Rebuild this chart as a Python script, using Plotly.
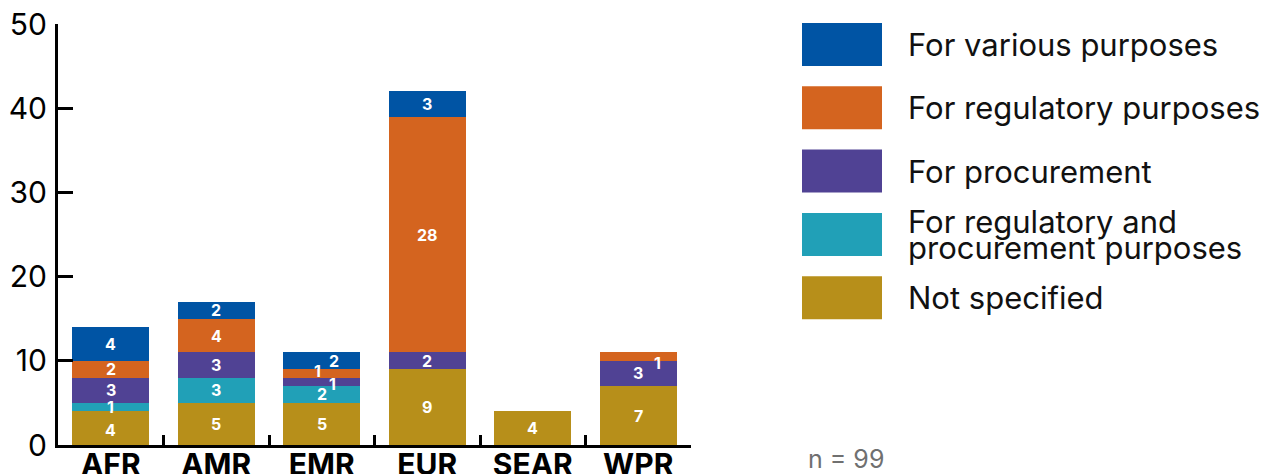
import plotly.graph_objects as go

# Regions and counts per purpose (stacked bottom to top)
regions = ["AFR", "AMR", "EMR", "EUR", "SEAR", "WPR"]
not_specified = [4, 5, 5, 9, 4, 7]
reg_and_proc = [1, 3, 2, 0, 0, 0]
procurement = [3, 3, 1, 2, 0, 3]
regulatory = [2, 4, 1, 28, 0, 1]
various = [4, 2, 2, 3, 0, 0]

series_names = [
    "Not specified",
    "For regulatory and\nprocurement purposes",
    "For procurement",
    "For regulatory purposes",
    "For various purposes",
]
series_values = [not_specified, reg_and_proc, procurement, regulatory, various]
series_colors = ["#B78F1A", "#21A0B7", "#504294", "#D4641F", "#0054A4"]

y_ticks = [0, 10, 20, 30, 40, 50]
sample_note = "n = 99"

# Pixel nudges for value labels that sit in thin segments: (series index, region) -> (dx, dy)
label_nudge = {
    (4, "EMR"): (12, 0),
    (3, "EMR"): (-4, 2),
    (2, "EMR"): (11, -2),
    (3, "WPR"): (19, -6),
    (0, "AFR"): (0, -2),
}

FONT = "Inter"
W, H = 1281, 474
L, R, T, B = 58, 691, 24, 445  # plot area in pixels

fig = go.Figure()
for name, vals, col in zip(series_names, series_values, series_colors):
    fig.add_trace(go.Bar(
        x=regions, y=vals, name=name.replace("\n", " "),
        marker=dict(color=col, line=dict(width=0)),
        showlegend=False,
    ))

# Value labels centred on each segment
annotations = []
base = [0] * len(regions)
for si, vals in enumerate(series_values):
    for ri, v in enumerate(vals):
        if v:
            dx, dy = label_nudge.get((si, regions[ri]), (0, 0))
            annotations.append(dict(
                x=regions[ri], y=base[ri] + v / 2, xref="x", yref="y",
                text=f"<b>{v}</b>", showarrow=False,
                font=dict(family=FONT, size=16, color="white"),
                xshift=dx, yshift=dy,
            ))
        base[ri] += v


def px_x(p):
    return (p - L) / (R - L)


def px_y(p):
    return (B - p) / (B - T)


# Legend: large swatches with labels, top to bottom
shapes = []
sw_x0, sw_x1, sw_h, sw_top, pitch = 802, 882, 43, 23, 63.3
text_x = 906
for k, si in enumerate(reversed(range(len(series_names)))):
    top = sw_top + k * pitch
    shapes.append(dict(
        type="rect", xref="paper", yref="paper",
        x0=px_x(sw_x0), x1=px_x(sw_x1), y0=px_y(top + sw_h), y1=px_y(top),
        fillcolor=series_colors[si], line=dict(width=0),
    ))
    lines = series_names[si].split("\n")
    mid = top + sw_h / 2
    gap = 26
    for li, line in enumerate(lines):
        cy = mid + (li - (len(lines) - 1) / 2) * gap
        annotations.append(dict(
            x=px_x(text_x), y=px_y(cy), xref="paper", yref="paper",
            xanchor="left", yanchor="middle", text=line, showarrow=False,
            font=dict(family=FONT, size=31, color="#111111"),
        ))

annotations.append(dict(
    x=px_x(806), y=px_y(459), xref="paper", yref="paper",
    xanchor="left", yanchor="middle", text=sample_note, showarrow=False,
    font=dict(family=FONT, size=25, color="#707070"),
))

fig.update_layout(
    barmode="stack",
    bargap=0.27,
    width=W, height=H,
    margin=dict(l=L, r=W - R, t=T, b=H - B, pad=0),
    plot_bgcolor="white", paper_bgcolor="white",
    shapes=shapes, annotations=annotations,
    xaxis=dict(
        type="category", range=[-0.5, len(regions) - 0.5],
        showline=True, linecolor="black", linewidth=3,
        ticks="inside", tickson="boundaries", ticklen=10, tickwidth=3,
        tickcolor="black", showgrid=False, zeroline=False,
        tickfont=dict(family=FONT, size=30, color="black", weight="bold"),
        ticklabelstandoff=-9, automargin=False,
    ),
    yaxis=dict(
        range=[0, 50], tickvals=y_ticks,
        showline=True, linecolor="black", linewidth=3,
        ticks="inside", ticklen=15, tickwidth=3, tickcolor="black",
        showgrid=False, zeroline=False,
        tickfont=dict(family=FONT, size=30, color="black"),
        ticklabelstandoff=2, automargin=False,
    ),
)

fig.write_html("out.html")
